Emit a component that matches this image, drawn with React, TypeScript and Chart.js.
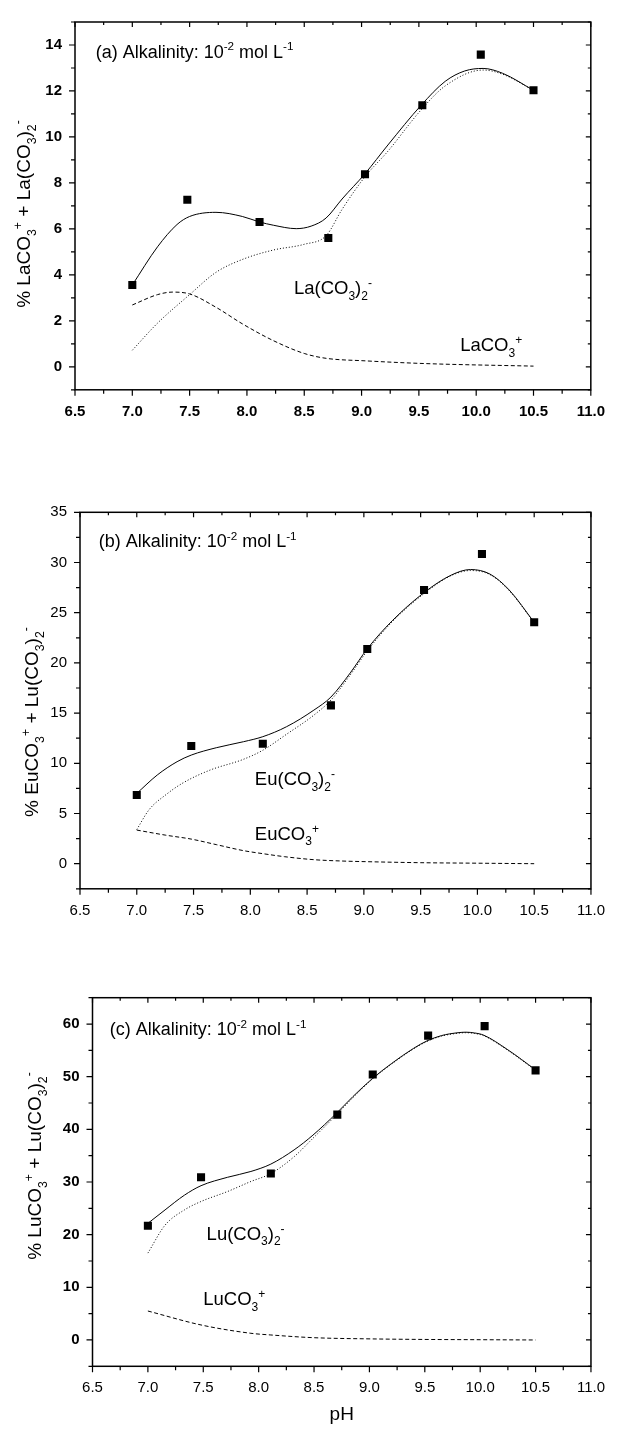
import React, { useEffect, useRef } from "react";
import { Chart, registerables } from "chart.js";

Chart.register(...registerables);

// ---------- data ----------
const pH = [7.0, 7.48, 8.11, 8.71, 9.03, 9.53, 10.04, 10.5];

// (a) La
const expLa = [3.56, 7.27, 6.3, 5.6, 8.38, 11.38, 13.58, 12.03];
const fitLaPH = [7.0, 7.22, 7.39, 7.5, 7.73, 7.96, 8.11, 8.23, 8.43, 8.56, 8.69, 8.83, 9.03, 9.23, 9.52, 9.73, 9.9, 10.06, 10.23, 10.5];
const fitLa = [3.56, 5.22, 6.19, 6.54, 6.72, 6.54, 6.3, 6.16, 6.01, 6.12, 6.47, 7.3, 8.4, 9.65, 11.38, 12.42, 12.87, 12.98, 12.77, 12.03];
const laDiPH = [7.0, 7.22, 7.5, 7.73, 7.96, 8.23, 8.5, 8.69, 8.83, 9.03, 9.23, 9.52, 9.73, 10.06, 10.23, 10.5];
const laDi = [0.72, 1.9, 3.14, 4.11, 4.67, 5.08, 5.33, 5.7, 6.85, 8.27, 9.38, 11.18, 12.22, 12.91, 12.73, 12.03];
const laMonoPH = [7.0, 7.22, 7.35, 7.5, 7.73, 7.96, 8.23, 8.5, 8.69, 9.03, 9.56, 10.5];
const laMono = [2.69, 3.14, 3.25, 3.17, 2.59, 1.87, 1.14, 0.58, 0.37, 0.26, 0.14, 0.03];

// (b) Eu
const expEu = [6.84, 11.72, 11.95, 15.77, 21.38, 27.26, 30.84, 24.04];
const fitEuPH = [7.0, 7.18, 7.355, 7.48, 7.7, 7.94, 8.11, 8.32, 8.56, 8.71, 8.88, 9.03, 9.25, 9.53, 9.77, 9.94, 10.11, 10.28, 10.5];
const fitEu = [7.0, 8.83, 10.16, 10.82, 11.55, 12.15, 12.65, 13.65, 15.3, 16.6, 19.0, 21.4, 24.2, 27.0, 28.75, 29.3, 28.85, 27.26, 24.04];
const euDiPH = [7.0, 7.11, 7.26, 7.4, 7.64, 7.94, 8.11, 8.32, 8.56, 8.71, 8.88, 9.03, 9.25, 9.53, 9.77, 9.94, 10.11, 10.28, 10.5];
const euDi = [3.4, 5.4, 6.9, 8.0, 9.3, 10.4, 11.3, 12.9, 14.8, 16.3, 18.8, 21.2, 24.1, 26.9, 28.7, 29.2, 28.8, 27.2, 24.0];
const euMonoPH = [7.0, 7.25, 7.48, 7.7, 7.94, 8.11, 8.3, 8.56, 8.8, 9.03, 9.5, 10.0, 10.5];
const euMono = [3.35, 2.85, 2.45, 1.9, 1.3, 1.0, 0.7, 0.4, 0.27, 0.2, 0.1, 0.05, 0.0];

// (c) Lu
const expLu = [21.7, 30.9, 31.6, 42.8, 50.4, 57.8, 59.6, 51.2];
const fitLuPH = [7.0, 7.155, 7.33, 7.48, 7.72, 7.93, 8.11, 8.32, 8.49, 8.7, 8.85, 9.03, 9.2, 9.4, 9.52, 9.65, 9.8, 9.87, 9.95, 10.03, 10.25, 10.5];
const fitLu = [22.15, 24.7, 27.5, 29.3, 30.9, 32.0, 33.4, 36.1, 38.9, 43.0, 46.2, 49.7, 52.5, 55.4, 56.8, 57.8, 58.35, 58.45, 58.3, 57.9, 55.1, 51.3];
const luDiPH = [7.0, 7.155, 7.33, 7.48, 7.72, 7.93, 8.11, 8.32, 8.49, 8.7, 8.85, 9.03, 9.2, 9.4, 9.52, 9.65, 9.8, 9.87, 9.95, 10.03, 10.25, 10.5];
const luDi = [16.5, 21.8, 24.7, 26.3, 28.2, 30.1, 31.6, 34.8, 38.3, 42.7, 46.0, 49.6, 52.4, 55.3, 56.7, 57.7, 58.25, 58.35, 58.2, 57.8, 55.0, 51.2];
const luMonoPH = [7.0, 7.48, 7.93, 8.11, 8.49, 9.03, 9.5, 10.0, 10.5];
const luMono = [5.5, 2.85, 1.27, 0.95, 0.44, 0.2, 0.1, 0.05, 0.0];

// ticks
const xTicks = [6.5, 7.0, 7.5, 8.0, 8.5, 9.0, 9.5, 10.0, 10.5, 11.0];
const yTicksA = [0, 2, 4, 6, 8, 10, 12, 14];
const yTicksB = [0, 5, 10, 15, 20, 25, 30, 35];
const yTicksC = [0, 10, 20, 30, 40, 50, 60];

// ---------- helpers ----------
const FONT = '"Liberation Sans", Arial, Helvetica, sans-serif';
type Seg = { t: string; k: number };
function parseRich(s: string): Seg[] {
  const out: Seg[] = [];
  let buf = "";
  let i = 0;
  while (i < s.length) {
    const c = s[i];
    if (c === "_" || c === "^") {
      if (buf) { out.push({ t: buf, k: 0 }); buf = ""; }
      let t = "";
      if (s[i + 1] === "{") {
        const j = s.indexOf("}", i + 2);
        t = s.slice(i + 2, j);
        i = j + 1;
      } else {
        t = s[i + 1];
        i += 2;
      }
      out.push({ t, k: c === "^" ? 1 : -1 });
    } else {
      buf += c;
      i++;
    }
  }
  if (buf) out.push({ t: buf, k: 0 });
  return out;
}
function setFont(ctx: CanvasRenderingContext2D, size: number, bold = false) {
  ctx.font = `${bold ? "bold " : ""}${size}px ${FONT}`;
}
function drawRich(ctx: CanvasRenderingContext2D, text: string, x: number, y: number, fs: number, align: "left" | "center") {
  const segs = parseRich(text);
  let total = 0;
  const widths = segs.map((sg) => {
    setFont(ctx, sg.k ? fs * 0.65 : fs);
    const w = ctx.measureText(sg.t).width;
    total += w;
    return w;
  });
  let cx = align === "center" ? x - total / 2 : x;
  ctx.textAlign = "left";
  ctx.textBaseline = "alphabetic";
  segs.forEach((sg, i) => {
    setFont(ctx, sg.k ? fs * 0.65 : fs);
    const dy = sg.k === 1 ? -0.4 * fs : sg.k === -1 ? 0.3 * fs : 0;
    ctx.fillText(sg.t, cx, y + dy);
    cx += widths[i];
  });
}
const pts = (xs: number[], ys: number[]) => xs.map((x, i) => ({ x, y: ys[i] }));
function minors(major: number[], min: number, max: number) {
  const step = major[1] - major[0];
  const out: number[] = [];
  for (let v = major[0] - step / 2; v <= max + 1e-9; v += step) {
    if (v >= min - 1e-9) out.push(v);
  }
  return out;
}

type Note = { text: string; x: number; y: number; size: number };
type PanelDef = {
  top: number;
  height: number;
  area: { left: number; right: number; top: number; bottom: number };
  yMin: number;
  yMax: number;
  yTicks: number[];
  xBold: boolean;
  yBold: boolean;
  yTitle: string;
  yTitleX: number;
  yTitleY: number;
  notes: Note[];
  xTitle?: string;
  exp: number[];
  fit: [number[], number[]];
  di: [number[], number[]];
  mono: [number[], number[]];
};

const panels: PanelDef[] = [
  {
    top: 0, height: 460,
    area: { left: 75, right: 602, top: 4.6, bottom: 389.8 },
    yMin: -1, yMax: 15, yTicks: yTicksA, xBold: true, yBold: true,
    yTitle: "% LaCO_3^+ + La(CO_3)_2^-", yTitleX: 30, yTitleY: 214,
    notes: [
      { text: "(a) Alkalinity: 10^{-2} mol L^{-1}", x: 6.68, y: 13.45, size: 18 },
      { text: "La(CO_3)_2^-", x: 8.41, y: 3.15, size: 18.5 },
      { text: "LaCO_3^+", x: 9.86, y: 0.69, size: 18.5 },
    ],
    exp: expLa, fit: [fitLaPH, fitLa], di: [laDiPH, laDi], mono: [laMonoPH, laMono],
  },
  {
    top: 460, height: 470,
    area: { left: 80, right: 593, top: 52.3, bottom: 428.8 },
    yMin: -2.5, yMax: 35, yTicks: yTicksB, xBold: false, yBold: false,
    yTitle: "% EuCO_3^+ + Lu(CO_3)_2^-", yTitleX: 38, yTitleY: 262,
    notes: [
      { text: "(b) Alkalinity: 10^{-2} mol L^{-1}", x: 6.665, y: 31.54, size: 18 },
      { text: "Eu(CO_3)_2^-", x: 8.04, y: 7.84, size: 18.5 },
      { text: "EuCO_3^+", x: 8.04, y: 2.37, size: 18.5 },
    ],
    exp: expEu, fit: [fitEuPH, fitEu], di: [euDiPH, euDi], mono: [euMonoPH, euMono],
  },
  {
    top: 930, height: 500,
    area: { left: 92.5, right: 594.5, top: 67.7, bottom: 436.3 },
    yMin: -5, yMax: 65, yTicks: yTicksC, xBold: false, yBold: true,
    yTitle: "% LuCO_3^+ + Lu(CO_3)_2^-", yTitleX: 41, yTitleY: 236,
    notes: [
      { text: "(c) Alkalinity: 10^{-2} mol L^{-1}", x: 6.655, y: 57.9, size: 18 },
      { text: "Lu(CO_3)_2^-", x: 7.53, y: 19.0, size: 18.5 },
      { text: "LuCO_3^+", x: 7.5, y: 6.65, size: 18.5 },
    ],
    xTitle: "pH",
    exp: expLu, fit: [fitLuPH, fitLu], di: [luDiPH, luDi], mono: [luMonoPH, luMono],
  },
];

function buildConfig(p: PanelDef): any {
  const decor = {
    id: "decor",
    afterDraw(chart: any) {
      const { ctx, chartArea: ca, scales } = chart;
      const xs = scales.x;
      const ys = scales.y;
      ctx.save();
      ctx.strokeStyle = "#000";
      ctx.fillStyle = "#000";
      ctx.lineWidth = 1.5;
      ctx.strokeRect(ca.left, ca.top, ca.right - ca.left, ca.bottom - ca.top);
      ctx.lineWidth = 1.2;
      ctx.beginPath();
      const xm = minors(xTicks, 6.5, 11);
      const ym = minors(p.yTicks, p.yMin, p.yMax);
      const xTick = (v: number, out: number, inn: number) => {
        const px = xs.getPixelForValue(v);
        ctx.moveTo(px, ca.bottom); ctx.lineTo(px, ca.bottom + out);
        ctx.moveTo(px, ca.top); ctx.lineTo(px, ca.top + inn);
      };
      const yTick = (v: number, out: number, inn: number) => {
        const py = ys.getPixelForValue(v);
        ctx.moveTo(ca.left, py); ctx.lineTo(ca.left - out, py);
        ctx.moveTo(ca.right, py); ctx.lineTo(ca.right - inn, py);
      };
      xTicks.forEach((v) => xTick(v, 6, 5));
      xm.forEach((v) => xTick(v, 4, 3));
      p.yTicks.forEach((v) => yTick(v, 6, 5));
      ym.forEach((v) => yTick(v, 4, 3));
      ctx.stroke();

      // y title
      ctx.save();
      ctx.translate(p.yTitleX, p.yTitleY);
      ctx.rotate(-Math.PI / 2);
      drawRich(ctx, p.yTitle, 0, 0, 19, "center");
      ctx.restore();

      // notes
      p.notes.forEach((n) => {
        drawRich(ctx, n.text, xs.getPixelForValue(n.x), ys.getPixelForValue(n.y), n.size, "left");
      });

      if (p.xTitle) {
        drawRich(ctx, p.xTitle, (ca.left + ca.right) / 2, ca.bottom + 53.7, 19, "center");
      }
      ctx.restore();
    },
  };

  const tickFont = (bold: boolean) => ({ family: FONT, size: 15, weight: bold ? "bold" : "normal" });

  return {
    type: "scatter",
    data: {
      datasets: [
        {
          data: pts(p.di[0], p.di[1]), showLine: true, borderColor: "#000", borderWidth: 1,
          borderDash: [1, 2], pointRadius: 0, cubicInterpolationMode: "monotone", fill: false,
        },
        {
          data: pts(p.mono[0], p.mono[1]), showLine: true, borderColor: "#000", borderWidth: 1,
          borderDash: [4, 2.5], pointRadius: 0, cubicInterpolationMode: "monotone", fill: false,
        },
        {
          data: pts(p.fit[0], p.fit[1]), showLine: true, borderColor: "#000", borderWidth: 1,
          pointRadius: 0, cubicInterpolationMode: "monotone", fill: false,
        },
        {
          data: pts(pH, p.exp), showLine: false, pointStyle: "rect", pointRadius: 5.7,
          backgroundColor: "#000", borderColor: "#000", borderWidth: 0,
        },
      ],
    },
    options: {
      animation: false,
      responsive: false,
      events: [],
      layout: { padding: { left: 0, top: p.area.top, right: 618 - p.area.right, bottom: 0 } },
      plugins: { legend: { display: false }, tooltip: { enabled: false } },
      scales: {
        x: {
          type: "linear", position: "bottom", min: 6.5, max: 11,
          afterBuildTicks: (s: any) => { s.ticks = xTicks.map((v) => ({ value: v })); },
          afterFit: (s: any) => { s.height = p.height - p.area.bottom; },
          grid: { display: false, drawTicks: false },
          border: { display: false },
          ticks: {
            padding: 13, color: "#000", font: tickFont(p.xBold), autoSkip: false, maxRotation: 0,
            callback: (v: any) => Number(v).toFixed(1),
          },
        },
        y: {
          type: "linear", position: "left", min: p.yMin, max: p.yMax,
          afterBuildTicks: (s: any) => { s.ticks = p.yTicks.map((v) => ({ value: v })); },
          afterFit: (s: any) => { s.width = p.area.left; },
          grid: { display: false, drawTicks: false },
          border: { display: false },
          ticks: {
            padding: 13, color: "#000", font: tickFont(p.yBold), autoSkip: false,
            callback: (v: any) => String(v),
          },
        },
      },
    },
    plugins: [decor],
  };
}

function PanelChart({ p }: { p: PanelDef }) {
  const ref = useRef<HTMLCanvasElement>(null);
  useEffect(() => {
    const chart = new Chart(ref.current as HTMLCanvasElement, buildConfig(p));
    return () => chart.destroy();
  }, []);
  return (
    <canvas
      ref={ref}
      width={618}
      height={p.height}
      style={{ position: "absolute", left: 0, top: p.top, width: 618, height: p.height, display: "block" }}
    />
  );
}

export default function App() {
  return (
    <div style={{ position: "absolute", left: 0, top: 0, width: 618, height: 1430, background: "#fff", overflow: "hidden" }}>
      {panels.map((p, i) => (
        <PanelChart key={i} p={p} />
      ))}
    </div>
  );
}
